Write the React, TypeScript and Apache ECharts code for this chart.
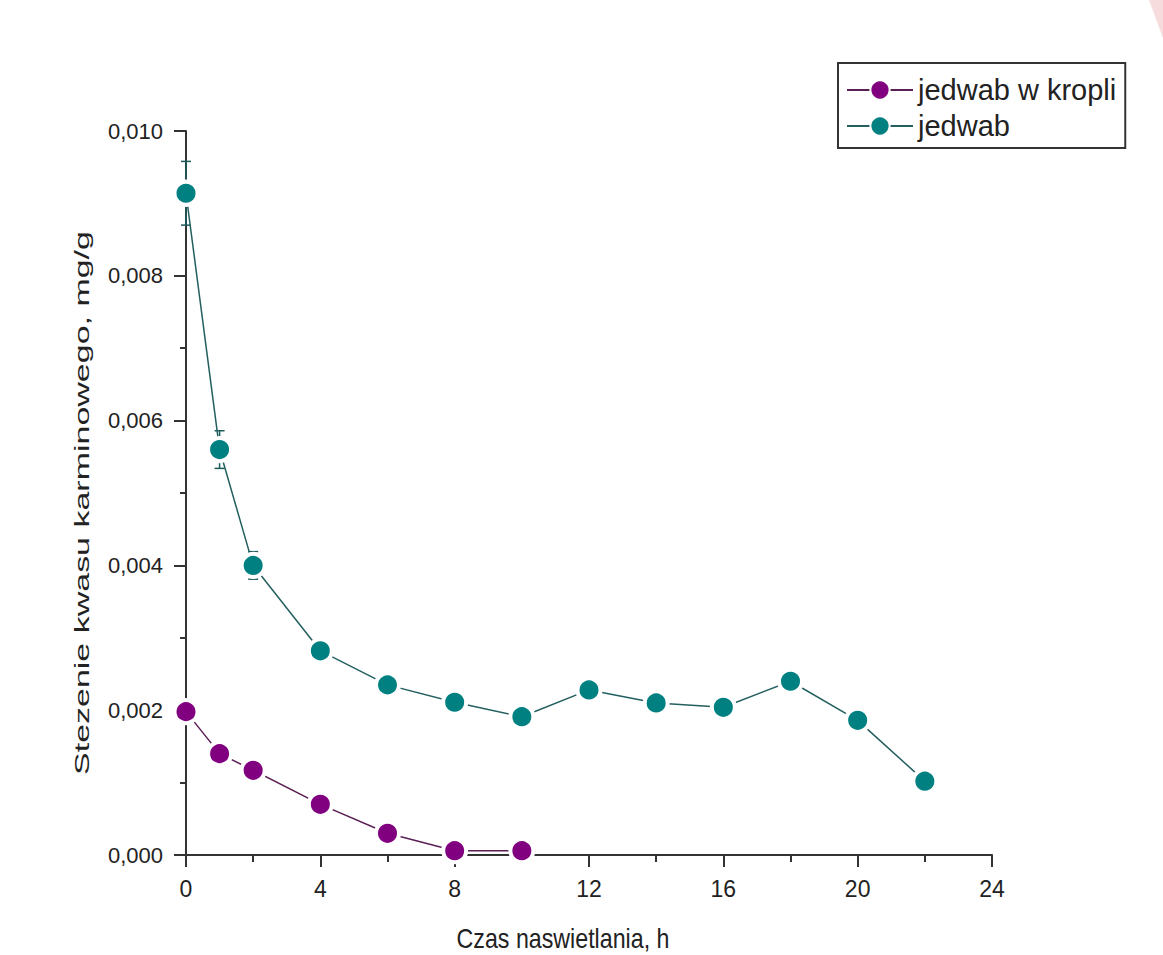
import React, { useEffect, useRef } from "react";
import * as echarts from "echarts";

const hours = [0, 1, 2, 4, 6, 8, 10, 12, 14, 16, 18, 20, 22];
const jedwabKropli = [0.00198, 0.0014, 0.00117, 0.0007, 0.0003, 0.00006, 0.00006];
const jedwab = [0.00914, 0.0056, 0.004, 0.00282, 0.00235, 0.00211, 0.00191, 0.00228, 0.0021, 0.00204, 0.0024, 0.00186, 0.00102];
const jedwabErr = [0.00044, 0.00026, 0.00019, 0.00008, 0.00008, 0.00006, 0.00006, 0.00006, 0.00005, 0.00005, 0.00006, 0.00006, 0.00005];
const yTicks = ["0,000", "0,002", "0,004", "0,006", "0,008", "0,010"];
const xTitle = "Czas naswietlania, h";
const yTitle = "Stezenie kwasu karminowego, mg/g";

const SANS = '"Liberation Sans", Arial, sans-serif';

export default function App() {
  const ref = useRef<HTMLDivElement>(null);
  useEffect(() => {
    if (!ref.current) return;
    const chart = echarts.init(ref.current, null, { renderer: "svg" });
    const kropliData = jedwabKropli.map((v, i) => [hours[i], v]);
    const jedwabData = jedwab.map((v, i) => [hours[i], v]);
    const errData = jedwab.map((v, i) => [hours[i], v - jedwabErr[i], v + jedwabErr[i]]);
    chart.setOption({
      animation: false,
      backgroundColor: "#ffffff",
      grid: { left: 186, right: 171, top: 131, bottom: 100 },
      legend: {
        orient: "vertical",
        left: 838,
        top: 63,
        data: ["jedwab w kropli", "jedwab"],
        itemWidth: 66,
        itemHeight: 24,
        itemGap: 6,
        padding: [12, 9, 7, 8],
        borderColor: "#333",
        borderWidth: 2,
        textStyle: { fontFamily: SANS, fontSize: 29, color: "#222", lineHeight: 30 },
      },
      graphic: [
        {
          type: "polygon",
          shape: { points: [[1149, 0], [1163, 0], [1163, 38]] },
          style: { fill: "#f6dcdc" },
        },
        {
          type: "text",
          x: 563,
          y: 938,
          scaleX: 0.86,
          style: {
            text: xTitle,
            font: '27px "Liberation Sans", Arial, sans-serif',
            fill: "#222",
            textAlign: "center",
            textVerticalAlign: "middle",
          },
        },
        {
          type: "text",
          x: 82,
          y: 503,
          rotation: Math.PI / 2,
          scaleX: 1.7,
          style: {
            text: yTitle,
            font: '20px "Liberation Sans", Arial, sans-serif',
            fill: "#222",
            textAlign: "center",
            textVerticalAlign: "middle",
          },
        },
      ],
      xAxis: {
        type: "value",
        min: 0,
        max: 24,
        interval: 4,
        axisLine: { lineStyle: { color: "#333", width: 2 } },
        axisTick: { show: true, length: 12, lineStyle: { color: "#333", width: 2 } },
        minorTick: { show: true, splitNumber: 2, length: 7, lineStyle: { color: "#333", width: 2 } },
        splitLine: { show: false },
        axisLabel: { fontFamily: SANS, fontSize: 23, color: "#222", margin: 22 },
      },
      yAxis: {
        type: "value",
        min: 0,
        max: 0.01,
        interval: 0.002,
        axisLine: { show: true, lineStyle: { color: "#333", width: 2 } },
        axisTick: { show: true, length: 12, lineStyle: { color: "#333", width: 2 } },
        minorTick: { show: true, splitNumber: 2, length: 6, lineStyle: { color: "#333", width: 2 } },
        splitLine: { show: false },
        axisLabel: {
          fontFamily: SANS,
          fontSize: 22,
          color: "#222",
          margin: 23,
          formatter: (v: number) => yTicks[Math.round(v / 0.002)] ?? v.toFixed(3).replace(".", ","),
        },
      },
      series: [
        {
          type: "custom",
          z: 1,
          silent: true,
          clip: false,
          data: errData,
          renderItem: (params: any, api: any) => {
            const x = api.value(0);
            const lo = api.coord([x, api.value(1)]);
            const hi = api.coord([x, api.value(2)]);
            const w = 5;
            const st = { stroke: "#1d5c5c", lineWidth: 1.5 };
            return {
              type: "group",
              children: [
                { type: "line", shape: { x1: lo[0], y1: lo[1], x2: hi[0], y2: hi[1] }, style: st },
                { type: "line", shape: { x1: lo[0] - w, y1: lo[1], x2: lo[0] + w, y2: lo[1] }, style: st },
                { type: "line", shape: { x1: hi[0] - w, y1: hi[1], x2: hi[0] + w, y2: hi[1] }, style: st },
              ],
            };
          },
        },
        {
          name: "jedwab w kropli",
          type: "line",
          z: 3,
          clip: false,
          data: kropliData,
          symbol: "circle",
          symbolSize: 23,
          lineStyle: { color: "#5a1f55", width: 1.5 },
          itemStyle: { color: "#800080", borderColor: "#ffffff", borderWidth: 4 },
        },
        {
          name: "jedwab",
          type: "line",
          z: 3,
          clip: false,
          data: jedwabData,
          symbol: "circle",
          symbolSize: 23,
          lineStyle: { color: "#245f5f", width: 1.5 },
          itemStyle: { color: "#008080", borderColor: "#ffffff", borderWidth: 4 },
        },
      ],
    });
    return () => chart.dispose();
  }, []);
  return (
    <div
      ref={ref}
      style={{ position: "fixed", left: 0, top: 0, width: 1163, height: 955, background: "#fff" }}
    />
  );
}
